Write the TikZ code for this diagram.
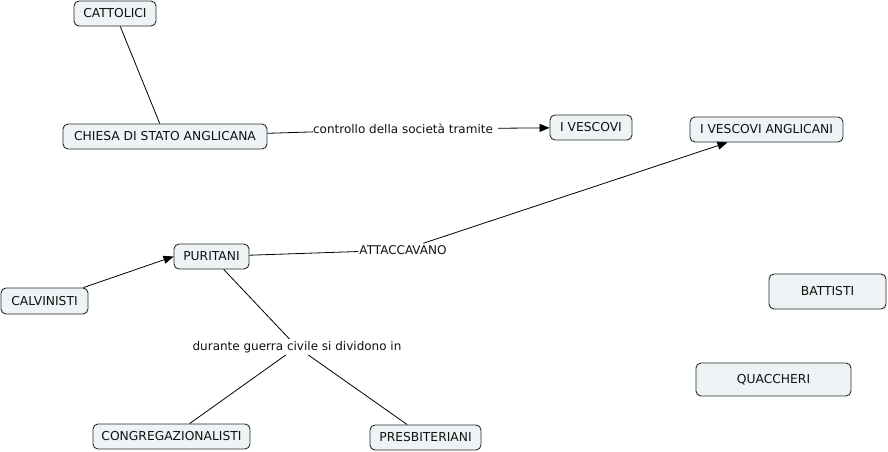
\documentclass[tikz,border=0pt]{standalone}
\usepackage{fontspec}
\setmainfont{DejaVu Sans}
\usetikzlibrary{arrows.meta}
\definecolor{boxfill}{HTML}{EEF3F5}
\definecolor{boxline}{HTML}{2A2A2A}
\definecolor{txt}{HTML}{111111}
\begin{document}
\begin{tikzpicture}[x=1pt,y=-1pt,
  concept/.style={draw=boxline,fill=boxfill,rounded corners=5pt,line width=0.9pt,
    inner sep=0pt,text=txt,font=\fontsize{12.3}{14}\selectfont},
  linklabel/.style={inner xsep=1pt,inner ysep=2pt,text=txt,font=\fontsize{12}{14}\selectfont},
  conn/.style={draw=black,line width=0.8pt},
  arr/.style={conn,-{Triangle[length=10pt,width=8pt]}}]
\useasboundingbox (0,0) rectangle (888,452);
% concepts
\node[concept,minimum width=82pt,minimum height=25pt] (catt) at (115,13.5) {CATTOLICI};
\node[concept,minimum width=204pt,minimum height=25pt] (chiesa) at (165,136.5) {CHIESA DI STATO ANGLICANA};
\node[concept,minimum width=82pt,minimum height=25pt] (vesc) at (591,127.5) {I VESCOVI};
\node[concept,minimum width=153pt,minimum height=25pt] (vescang) at (766.5,129.5) {I VESCOVI ANGLICANI};
\node[concept,minimum width=75pt,minimum height=25pt] (puri) at (211.5,256.5) {PURITANI};
\node[concept,minimum width=87pt,minimum height=26pt] (calv) at (44.5,301) {CALVINISTI};
\node[concept,minimum width=117pt,minimum height=35pt] (batt) at (827.5,291.5) {BATTISTI};
\node[concept,minimum width=155pt,minimum height=33pt] (quac) at (773.5,379.5) {QUACCHERI};
\node[concept,minimum width=157pt,minimum height=25pt] (congr) at (171.5,436.5) {CONGREGAZIONALISTI};
\node[concept,minimum width=111pt,minimum height=25pt] (presb) at (425.5,437.5) {PRESBITERIANI};
% link labels
\node[linklabel,inner xsep=0pt] (lcontr) at (405.5,129) {controllo della società tramite\kern5pt};
\node[linklabel] (latt) at (403,250) {ATTACCAVANO};
\node[linklabel] (ldur) at (297,347) {durante guerra civile si dividono in};
% connectors
\draw[conn] (catt) -- (chiesa);
\draw[conn] (chiesa) -- (lcontr);
\draw[arr] (lcontr) -- (vesc);
\draw[conn] (puri) -- (latt);
\draw[arr] (latt) -- (vescang);
\draw[arr] (calv) -- (puri.west);
\draw[conn] (puri) -- (ldur);
\draw[conn] (ldur) -- (congr);
\draw[conn] (ldur) -- (presb);
\end{tikzpicture}
\end{document}
